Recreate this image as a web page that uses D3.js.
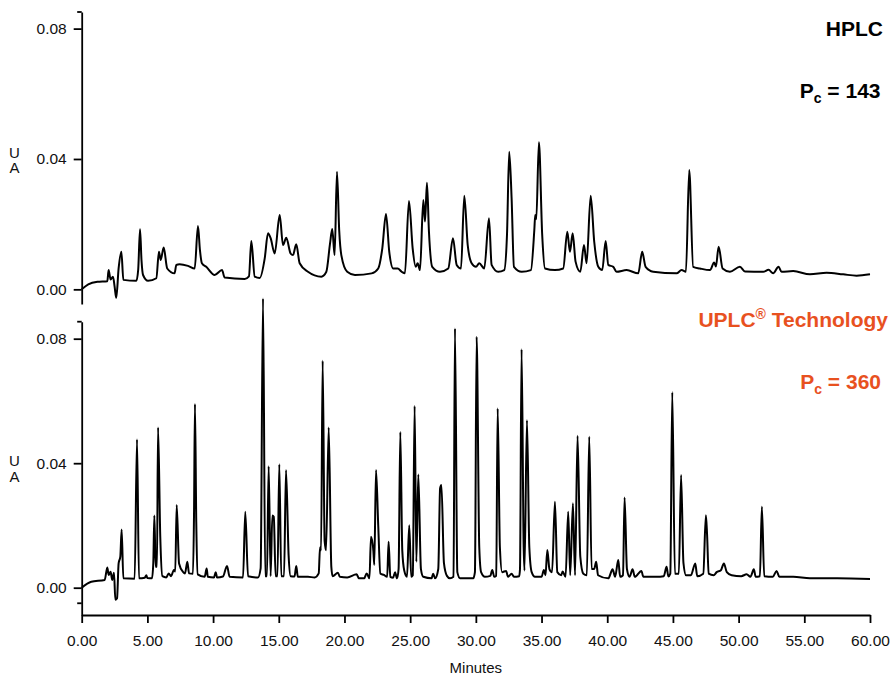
<!DOCTYPE html>
<html>
<head>
<meta charset="utf-8">
<script src="https://cdn.jsdelivr.net/npm/d3@7/dist/d3.min.js"></script>
<style>
  html, body { margin: 0; padding: 0; background: #fff; }
  svg { display: block; }
  text { font-family: "Liberation Sans", Arial, Helvetica, sans-serif; }
</style>
</head>
<body>
<svg id="chart" width="892" height="677"></svg>
<script>
// ---------- DATA ----------
const xTicks = [0, 5, 10, 15, 20, 25, 30, 35, 40, 45, 50, 55, 60];
const yTicks = [0, 0.04, 0.08];
const xLabel = "Minutes";
const yLabel = ["U", "A"];

// HPLC trace: retention time (min) and absorbance (AU)
const hplcTime = [0,0.5,1.2,1.95,2.05,2.2,2.38,2.5,2.63,2.81,3.02,3.17,4.16,4.3,4.44,4.55,4.67,5.05,5.68,5.88,6.01,6.24,6.51,7.07,7.2,7.45,8.09,8.6,8.85,9.0,9.15,9.48,10.12,10.68,10.88,12.4,12.73,12.91,13.17,13.55,13.93,14.18,14.38,14.69,15.07,15.32,15.57,15.9,16.08,16.33,16.59,17.22,18.24,18.62,18.9,19.07,19.25,19.43,19.6,19.76,20.21,20.8,22.07,22.57,22.88,23.16,23.41,23.71,24.05,24.35,24.6,24.91,25.19,25.42,25.57,25.75,26.0,26.13,26.28,26.43,26.68,27.27,27.9,28.26,28.54,28.87,29.12,29.38,29.68,30.01,30.26,30.64,31.0,31.2,31.7,32.16,32.37,32.54,32.72,32.9,33.49,34.19,34.45,34.52,34.6,34.8,35.05,35.26,36.02,36.65,36.96,37.16,37.37,37.59,37.95,38.23,38.43,38.74,39.01,39.32,39.62,39.88,40.08,40.46,40.71,41.48,42.36,42.66,42.92,43.5,45.28,45.66,45.99,46.24,46.54,47.05,47.82,48.14,48.27,48.48,48.78,49.34,50.1,50.48,51.87,52.28,52.63,53.04,53.27,54.16,55.43,56.7,57.96,58.98,60];
const hplcAbs = [0,0.0015,0.0023,0.0025,0.0059,0.003,0.0039,0.001,-0.0026,0.0064,0.0115,0.0029,0.0026,0.006,0.0184,0.009,0.0044,0.0026,0.0034,0.0115,0.009,0.0128,0.0064,0.0049,0.0075,0.0077,0.0072,0.0064,0.0194,0.012,0.008,0.0069,0.0044,0.0059,0.0036,0.0032,0.004,0.0148,0.0039,0.0035,0.0095,0.0172,0.0157,0.011,0.0228,0.0136,0.0158,0.011,0.0105,0.0138,0.008,0.0054,0.0039,0.0054,0.014,0.0185,0.0105,0.0361,0.018,0.0105,0.0054,0.0044,0.0049,0.0064,0.0126,0.0231,0.0115,0.0064,0.0064,0.0054,0.0049,0.0271,0.0126,0.0069,0.008,0.0059,0.0274,0.0208,0.0327,0.0177,0.0069,0.0054,0.0064,0.0157,0.0075,0.0064,0.0287,0.0136,0.008,0.0069,0.008,0.0064,0.0218,0.0075,0.0054,0.0059,0.0167,0.0422,0.0281,0.0069,0.0054,0.0059,0.0182,0.0228,0.0215,0.0451,0.0167,0.0064,0.0059,0.0064,0.0177,0.0115,0.0172,0.0085,0.0054,0.0136,0.008,0.0287,0.0146,0.0069,0.0059,0.0148,0.0075,0.0069,0.0054,0.0059,0.0049,0.0115,0.0069,0.0054,0.0049,0.0059,0.0054,0.0366,0.0069,0.0064,0.0059,0.0082,0.007,0.0131,0.0064,0.0054,0.0069,0.0055,0.0054,0.006,0.0049,0.0069,0.0054,0.0056,0.0046,0.0051,0.0046,0.0042,0.0046];

// UPLC trace: retention time (min) and absorbance (AU)
const uplcTime = [0,0.73,1.75,1.95,2.05,2.2,2.32,2.46,2.56,2.69,2.81,2.94,3.04,3.17,4.03,4.21,4.36,4.8,4.92,5.0,5.35,5.45,5.53,5.63,5.73,5.81,5.98,6.14,6.44,6.62,6.8,7.02,7.12,7.23,7.41,7.71,7.86,8.04,8.17,8.47,8.55,8.62,8.72,8.83,9.36,9.51,9.6,10.07,10.2,10.3,10.75,11.06,11.26,12.28,12.45,12.66,13.42,13.62,13.8,13.97,14.1,14.23,14.38,14.51,14.62,14.76,14.9,15.04,15.19,15.4,15.55,15.75,15.9,16.2,16.33,16.45,17.22,17.73,18.04,18.14,18.22,18.34,18.49,18.6,18.8,19.0,19.1,19.5,19.65,20.21,20.93,21.1,21.5,21.69,21.9,22.02,22.2,22.27,22.4,22.57,22.73,23.0,23.25,23.36,23.49,23.7,23.85,24.0,24.12,24.25,24.4,24.55,24.76,24.93,25.08,25.2,25.34,25.47,25.62,25.82,26.0,26.63,26.75,26.9,27.14,27.28,27.38,27.57,27.8,28.03,28.3,28.41,28.59,28.8,29.8,29.93,30.06,30.26,30.4,30.69,31.1,31.25,31.4,31.55,31.66,31.83,32.0,32.3,32.45,32.72,32.9,33.3,33.36,33.48,33.64,33.7,33.89,34.07,34.25,34.5,35.0,35.18,35.3,35.44,35.6,35.8,36.02,36.2,36.5,36.6,36.83,37.03,37.18,37.39,37.55,37.74,37.95,38.18,38.45,38.63,38.81,39.0,39.16,39.3,40.08,40.41,40.6,40.84,40.98,41.2,41.32,41.5,41.7,41.93,42.1,42.6,42.75,43.76,44.3,44.52,44.65,44.8,44.95,45.15,45.45,45.62,45.8,46.0,46.37,46.7,46.85,47.31,47.51,47.6,47.72,48.1,48.33,48.65,48.88,49.1,49.47,50.2,50.61,50.9,51.16,51.3,51.62,51.77,51.95,52.6,52.89,53.1,54.16,55.43,57.5,60];
const uplcAbs = [0,0.0019,0.0025,0.0065,0.0041,0.0051,0.0025,0.0048,-0.0039,-0.0034,0.0078,0.01,0.0187,0.003,0.0029,0.0476,0.003,0.0032,0.004,0.0031,0.003,0.008,0.0232,0.0067,0.0067,0.0515,0.0164,0.0037,0.0033,0.0046,0.0037,0.0057,0.0052,0.0266,0.0078,0.0051,0.0046,0.0083,0.0046,0.0045,0.0239,0.059,0.021,0.0043,0.0035,0.0062,0.0035,0.0033,0.005,0.0033,0.0036,0.007,0.0035,0.0033,0.0244,0.0037,0.0033,0.0062,0.0929,0.0037,0.0037,0.039,0.0037,0.0232,0.0228,0.0037,0.0037,0.0397,0.0037,0.0037,0.0378,0.0103,0.0037,0.0036,0.007,0.0035,0.0035,0.0033,0.0046,0.013,0.012,0.0729,0.015,0.012,0.0515,0.0067,0.0037,0.0048,0.0035,0.0033,0.0043,0.003,0.003,0.0046,0.003,0.0164,0.0118,0.0073,0.0378,0.02,0.0046,0.0041,0.0035,0.0148,0.0035,0.0032,0.005,0.003,0.006,0.05,0.012,0.0055,0.0035,0.0201,0.0035,0.004,0.0584,0.0083,0.0364,0.006,0.0035,0.003,0.0045,0.003,0.006,0.032,0.033,0.008,0.0038,0.003,0.0035,0.0833,0.005,0.003,0.003,0.005,0.0806,0.013,0.005,0.0035,0.0038,0.0057,0.0035,0.0038,0.0576,0.013,0.005,0.0054,0.0035,0.0045,0.0035,0.0037,0.006,0.0766,0.013,0.0055,0.0538,0.013,0.005,0.0035,0.0035,0.0057,0.004,0.0121,0.006,0.005,0.0276,0.005,0.004,0.0052,0.0035,0.0244,0.004,0.0271,0.004,0.0488,0.01,0.0045,0.004,0.0485,0.006,0.006,0.0083,0.004,0.003,0.0059,0.0035,0.0089,0.0035,0.004,0.029,0.006,0.0035,0.0059,0.0035,0.0054,0.0035,0.0035,0.0037,0.0067,0.0036,0.0045,0.0628,0.0045,0.0045,0.0362,0.008,0.004,0.004,0.0078,0.0037,0.0045,0.0233,0.017,0.0045,0.004,0.005,0.0056,0.0078,0.005,0.004,0.0037,0.0043,0.0035,0.0059,0.0035,0.0037,0.026,0.0037,0.0035,0.0054,0.0035,0.0035,0.003,0.003,0.0028];

const hplcTitle = "HPLC";
const hplcPc = "143";
const uplcTitle = "UPLC";
const uplcPc = "360";

// ---------- DRAWING ----------
const svg = d3.select("#chart");
svg.append("rect").attr("width", 892).attr("height", 677).attr("fill", "#fff");

const orange = "#e8511f";
const axisColor = "#000";
const tickFont = 15.5;

const x = d3.scaleLinear().domain([0, 60]).range([81.7, 870]);
const yTop = d3.scaleLinear().domain([-0.0045, 0.0851]).range([304, 12]);
const yBot = d3.scaleLinear().domain([-0.00877, 0.08546]).range([615, 321.7]);

function styleAxis(g) {
  g.selectAll("path.domain").attr("stroke", axisColor).attr("stroke-width", 1.8);
  g.selectAll(".tick line").attr("stroke", axisColor).attr("stroke-width", 1.8);
  g.selectAll(".tick text").attr("fill", "#111").style("font-size", tickFont + "px")
    .style("font-family", '"Liberation Sans", Arial, Helvetica, sans-serif');
}

function drawPanel(y, times, abs, minorTicks) {
  const gy = svg.append("g").attr("transform", `translate(${x(0)},0)`)
    .call(d3.axisLeft(y).tickValues(yTicks).tickFormat(d3.format(".2f"))
      .tickSize(8).tickSizeOuter(0).tickPadding(7));
  styleAxis(gy);
  minorTicks.forEach(v => {
    svg.append("line")
      .attr("x1", x(0) - 4.5).attr("x2", x(0))
      .attr("y1", y(v)).attr("y2", y(v))
      .attr("stroke", axisColor).attr("stroke-width", 1.8);
  });
  const line = d3.line()
    .x((d, i) => x(times[i]))
    .y(d => y(d))
    .curve(d3.curveMonotoneX);
  svg.append("path")
    .datum(abs)
    .attr("d", line)
    .attr("fill", "none")
    .attr("stroke", "#000")
    .attr("stroke-width", 2)
    .attr("stroke-linejoin", "round");
}

drawPanel(yTop, hplcTime, hplcAbs, [yTop.domain()[1]]);
drawPanel(yBot, uplcTime, uplcAbs, [yBot.domain()[1], -0.005]);

// x axis
const gx = svg.append("g").attr("transform", `translate(0,${yBot.range()[0]})`)
  .call(d3.axisBottom(x).tickValues(xTicks).tickFormat(d3.format(".2f"))
    .tickSize(8).tickSizeOuter(0).tickPadding(12));
styleAxis(gx);

svg.append("text")
  .attr("x", (x.range()[0] + x.range()[1]) / 2).attr("y", 673)
  .attr("text-anchor", "middle").attr("fill", "#111")
  .style("font-size", "15px").text(xLabel);

// U / A labels
function uaLabel(cy) {
  yLabel.forEach((s, i) => {
    svg.append("text")
      .attr("x", 14.5).attr("y", cy + i * 15.5)
      .attr("text-anchor", "middle").attr("fill", "#111")
      .style("font-size", "15px").text(s);
  });
}
uaLabel(157.8);
uaLabel(466.2);

// panel annotations
function pcLabel(xr, yb, value, color) {
  const t = svg.append("text").attr("x", xr).attr("y", yb)
    .attr("text-anchor", "end").attr("fill", color)
    .style("font-size", "21px").style("font-weight", "bold");
  t.append("tspan").text("P");
  t.append("tspan").attr("dy", 5).style("font-size", "14px").text("c");
  t.append("tspan").attr("dy", -5).text(" = " + value);
}

svg.append("text").attr("x", 883).attr("y", 36)
  .attr("text-anchor", "end").attr("fill", "#000")
  .style("font-size", "21px").style("font-weight", "bold").text(hplcTitle);
pcLabel(880.5, 98.3, hplcPc, "#000");

const ut = svg.append("text").attr("x", 888).attr("y", 327.3)
  .attr("text-anchor", "end").attr("fill", orange)
  .style("font-size", "21px").style("font-weight", "bold");
ut.append("tspan").text(uplcTitle);
ut.append("tspan").attr("dy", -8).style("font-size", "14px").text("\u00AE");
ut.append("tspan").attr("dy", 8).text(" Technology");
pcLabel(881, 389.3, uplcPc, orange);
</script>
</body>
</html>
